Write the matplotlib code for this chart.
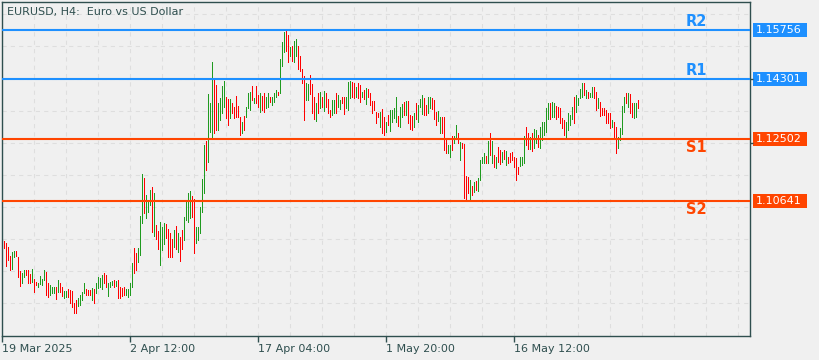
import matplotlib
matplotlib.use("Agg")
import matplotlib.pyplot as plt
from matplotlib.patches import Rectangle
from matplotlib.transforms import blended_transform_factory

chart_title = "EURUSD, H4:  Euro vs US Dollar"
time_labels = ["19 Mar 2025", "2 Apr 12:00", "17 Apr 04:00", "1 May 20:00", "16 May 12:00"]
bars_per_label = 64

level_names = ["R2", "R1", "S1", "S2"]
level_values = [1.15756, 1.14301, 1.12502, 1.10641]

# u = up bar (green), d = down bar (red)
bar_dir = ("dddduudddu" "udddudduuu" "udduuudu"
           "dduudddddu" "uuuddduduu" "uudduuudud" "ddduuu"
           "udduuuduuu" "dudduuuddd" "dududduuuu" "dduuuuudu"
           "uudduuuudd" "uddddduduu" "ududdudduu" "duuudu"
           "uudduduudd" "dduudddudu" "duddduuduu" "dduuuddudd" "ududdddddu" "dduduuuud"
           "uududddudu" "uudduudddu" "uddduuduud" "uddddududu" "uuudududud" "dududddddd"
           "uuudduduud" "uuuuuduudd" "ddduuuuduu" "uududuuddu" "dddddduddu" "uuududduud")

bar_high = [
    1.0944, 1.0938, 1.0926, 1.0899, 1.0911, 1.0914, 1.0914, 1.0896, 1.0854, 1.0848,
    1.0857, 1.0857, 1.0857, 1.0845, 1.0860, 1.0830, 1.0821, 1.0818, 1.0839, 1.0830,
    1.0857, 1.0851, 1.0818, 1.0812, 1.0806, 1.0806, 1.0806, 1.0827,
    1.0818, 1.0806, 1.0794, 1.0794, 1.0800, 1.0797, 1.0794, 1.0758, 1.0767, 1.0773,
    1.0782, 1.0791, 1.0818, 1.0800, 1.0797, 1.0797, 1.0803, 1.0800, 1.0818, 1.0836,
    1.0833, 1.0842, 1.0848, 1.0842, 1.0818, 1.0821, 1.0824, 1.0827, 1.0824, 1.0827,
    1.0806, 1.0803, 1.0806, 1.0800, 1.0800, 1.0818,
    1.0878, 1.0923, 1.0908, 1.0923, 1.1019, 1.1146, 1.1134, 1.1082, 1.1067, 1.1098,
    1.1107, 1.1088, 1.0992, 1.0974, 1.1001, 1.0986, 1.0998, 1.0995, 1.0980, 1.0968,
    1.0950, 1.0977, 1.0989, 1.0968, 1.0956, 1.0977, 1.1016, 1.1067, 1.1088, 1.1095,
    1.1079, 1.1070, 1.0986, 1.0986, 1.1046, 1.1131, 1.1233, 1.1245, 1.1386,
    1.1359, 1.1480, 1.1428, 1.1413, 1.1359, 1.1374, 1.1410, 1.1425, 1.1377, 1.1371,
    1.1371, 1.1359, 1.1347, 1.1380, 1.1350, 1.1317, 1.1302, 1.1320, 1.1347, 1.1389,
    1.1392, 1.1410, 1.1374, 1.1410, 1.1383, 1.1389, 1.1380, 1.1389, 1.1377, 1.1389,
    1.1377, 1.1377, 1.1389, 1.1398, 1.1392, 1.1489,
    1.1540, 1.1570, 1.1576, 1.1561, 1.1525, 1.1528, 1.1543, 1.1549, 1.1528, 1.1498,
    1.1459, 1.1438, 1.1419, 1.1416, 1.1441, 1.1416, 1.1377, 1.1359, 1.1389, 1.1392,
    1.1377, 1.1395, 1.1389, 1.1371, 1.1338, 1.1368, 1.1368, 1.1389, 1.1383, 1.1368,
    1.1377, 1.1377, 1.1377, 1.1422, 1.1425, 1.1422, 1.1419, 1.1407, 1.1419, 1.1413,
    1.1392, 1.1398, 1.1404, 1.1401, 1.1389, 1.1365, 1.1365, 1.1332, 1.1329, 1.1332,
    1.1341, 1.1317, 1.1302, 1.1323, 1.1338, 1.1338, 1.1344, 1.1377, 1.1320,
    1.1347, 1.1356, 1.1362, 1.1365, 1.1365, 1.1323, 1.1320, 1.1329, 1.1359, 1.1353,
    1.1371, 1.1383, 1.1374, 1.1353, 1.1377, 1.1377, 1.1374, 1.1368, 1.1332, 1.1335,
    1.1317, 1.1317, 1.1317, 1.1254, 1.1233, 1.1233, 1.1260, 1.1260, 1.1293, 1.1269,
    1.1242, 1.1239, 1.1236, 1.1140, 1.1137, 1.1128, 1.1110, 1.1122, 1.1125, 1.1134,
    1.1188, 1.1197, 1.1209, 1.1200, 1.1245, 1.1269, 1.1245, 1.1203, 1.1197, 1.1227,
    1.1218, 1.1212, 1.1218, 1.1215, 1.1197, 1.1209, 1.1212, 1.1197, 1.1194, 1.1167,
    1.1197, 1.1197, 1.1260, 1.1287, 1.1269, 1.1257, 1.1269, 1.1281, 1.1278, 1.1263,
    1.1287, 1.1302, 1.1302, 1.1344, 1.1359, 1.1359, 1.1362, 1.1359, 1.1350, 1.1347,
    1.1344, 1.1314, 1.1308, 1.1302, 1.1329, 1.1323, 1.1347, 1.1377, 1.1383, 1.1374,
    1.1401, 1.1419, 1.1419, 1.1398, 1.1392, 1.1389, 1.1407, 1.1407, 1.1392, 1.1374,
    1.1362, 1.1344, 1.1344, 1.1338, 1.1329, 1.1329, 1.1308, 1.1302, 1.1287, 1.1257,
    1.1284, 1.1350, 1.1377, 1.1389, 1.1389, 1.1386, 1.1359, 1.1359, 1.1359, 1.1368,
]

bar_low = [
    1.0923, 1.0869, 1.0887, 1.0857, 1.0860, 1.0896, 1.0899, 1.0836, 1.0809, 1.0818,
    1.0836, 1.0842, 1.0818, 1.0818, 1.0821, 1.0791, 1.0812, 1.0806, 1.0815, 1.0812,
    1.0827, 1.0782, 1.0776, 1.0782, 1.0788, 1.0788, 1.0770, 1.0791,
    1.0791, 1.0779, 1.0773, 1.0776, 1.0776, 1.0758, 1.0745, 1.0727, 1.0727, 1.0749,
    1.0752, 1.0767, 1.0788, 1.0782, 1.0782, 1.0782, 1.0767, 1.0758, 1.0788, 1.0803,
    1.0806, 1.0800, 1.0818, 1.0806, 1.0779, 1.0806, 1.0812, 1.0806, 1.0809, 1.0773,
    1.0773, 1.0779, 1.0782, 1.0782, 1.0776, 1.0782,
    1.0806, 1.0848, 1.0857, 1.0881, 1.0902, 1.0998, 1.1028, 1.1013, 1.1031, 1.1052,
    1.0971, 1.0959, 1.0950, 1.0920, 1.0872, 1.0917, 1.0935, 1.0953, 1.0896, 1.0896,
    1.0896, 1.0926, 1.0920, 1.0911, 1.0884, 1.0920, 1.0947, 1.1007, 1.1001, 1.1013,
    1.1016, 1.0908, 1.0938, 1.0947, 1.0968, 1.1031, 1.1088, 1.1158, 1.1182,
    1.1272, 1.1254, 1.1269, 1.1278, 1.1278, 1.1308, 1.1329, 1.1347, 1.1314, 1.1293,
    1.1314, 1.1329, 1.1314, 1.1317, 1.1317, 1.1263, 1.1269, 1.1278, 1.1317, 1.1344,
    1.1338, 1.1368, 1.1359, 1.1359, 1.1347, 1.1332, 1.1338, 1.1332, 1.1344, 1.1347,
    1.1362, 1.1353, 1.1362, 1.1377, 1.1383, 1.1389,
    1.1468, 1.1510, 1.1513, 1.1480, 1.1498, 1.1483, 1.1480, 1.1498, 1.1459, 1.1453,
    1.1419, 1.1308, 1.1368, 1.1368, 1.1386, 1.1329, 1.1311, 1.1305, 1.1329, 1.1344,
    1.1347, 1.1335, 1.1347, 1.1329, 1.1317, 1.1323, 1.1329, 1.1329, 1.1347, 1.1341,
    1.1359, 1.1326, 1.1344, 1.1338, 1.1374, 1.1377, 1.1374, 1.1377, 1.1374, 1.1362,
    1.1377, 1.1371, 1.1356, 1.1377, 1.1353, 1.1329, 1.1338, 1.1299, 1.1317, 1.1287,
    1.1269, 1.1263, 1.1272, 1.1293, 1.1275, 1.1302, 1.1314, 1.1302, 1.1290,
    1.1287, 1.1317, 1.1323, 1.1323, 1.1299, 1.1281, 1.1278, 1.1287, 1.1311, 1.1302,
    1.1347, 1.1326, 1.1323, 1.1323, 1.1329, 1.1344, 1.1341, 1.1311, 1.1293, 1.1305,
    1.1269, 1.1269, 1.1218, 1.1209, 1.1209, 1.1197, 1.1218, 1.1239, 1.1254, 1.1239,
    1.1188, 1.1224, 1.1073, 1.1070, 1.1088, 1.1070, 1.1082, 1.1092, 1.1098, 1.1095,
    1.1128, 1.1179, 1.1179, 1.1179, 1.1179, 1.1203, 1.1179, 1.1167, 1.1164, 1.1182,
    1.1176, 1.1182, 1.1191, 1.1173, 1.1179, 1.1182, 1.1188, 1.1167, 1.1128, 1.1146,
    1.1170, 1.1173, 1.1179, 1.1233, 1.1221, 1.1221, 1.1215, 1.1224, 1.1239, 1.1227,
    1.1224, 1.1248, 1.1263, 1.1272, 1.1311, 1.1311, 1.1317, 1.1317, 1.1311, 1.1317,
    1.1299, 1.1284, 1.1263, 1.1254, 1.1278, 1.1293, 1.1311, 1.1299, 1.1332, 1.1353,
    1.1374, 1.1377, 1.1383, 1.1374, 1.1374, 1.1377, 1.1377, 1.1374, 1.1338, 1.1344,
    1.1320, 1.1323, 1.1323, 1.1299, 1.1299, 1.1284, 1.1287, 1.1254, 1.1209, 1.1224,
    1.1248, 1.1266, 1.1332, 1.1359, 1.1347, 1.1329, 1.1317, 1.1314, 1.1317, 1.1344,
]

bg = "#f0f0f0"
ink = "#2f4f4f"
up_color = "#1f9a1f"
down_color = "#ff0000"
level_colors = ["#1e90ff", "#1e90ff", "#ff4500", "#ff4500"]

W, H = 820, 360
fig = plt.figure(figsize=(W / 100, H / 100), dpi=100, facecolor=bg)
ax = fig.add_axes([2.5 / W, 24 / H, 747.5 / W, 334 / H], facecolor=bg)

n = len(bar_high)
x = list(range(n))
colors = [up_color if d == "u" else down_color for d in bar_dir]
ax.vlines(x, bar_low, bar_high, colors=colors, linewidth=0.5,
          antialiased=False, zorder=2)

x0 = -0.75
ax.set_xlim(x0, 373)
ax.set_ylim(1.06586, 1.16609)

# dashed grid, one vertical line every 16 bars
for k in range(24):
    ax.axvline(x0 + 16 * k, color="#dedede", lw=0.75, ls=(0, (4, 4)), zorder=1)
grid_step = 0.009633
for k in range(-5, 5):
    ax.axhline(1.12386 + grid_step * k, color="#dedede", lw=0.75, ls=(0, (4, 4)), zorder=1)

# levels
trans = blended_transform_factory(fig.transFigure, ax.transData)
box_h = (1.16609 - 1.06586) / 334 * 14
for name, v, c in zip(level_names, level_values, level_colors):
    ax.axhline(v, color=c, lw=1.5, zorder=3)
    dy = 8.5 if name.startswith("R") else -8.5
    ax.annotate(name, (346, v), xytext=(0, dy), textcoords="offset pixels",
                ha="center", va="center", fontsize=10.5, fontweight="bold",
                color=c, zorder=4)
    ax.add_patch(Rectangle((753 / W, v - box_h / 2), 54 / W, box_h,
                           transform=trans, facecolor=c, edgecolor="none",
                           clip_on=False))
    ax.text(756 / W, v, "{:.5f}".format(v), transform=trans, color="white",
            fontsize=8, ha="left", va="center", clip_on=False)

ax.set_xticks([x0 + bars_per_label * i for i in range(len(time_labels))])
ax.set_xticklabels(time_labels, ha="left")
ax.tick_params(axis="x", length=4, width=1, pad=2, colors=ink, labelsize=8)

ax.yaxis.tick_right()
ax.set_yticks([1.12386, 1.14312])
ax.set_yticklabels([])
ax.tick_params(axis="y", length=2.5, width=1, colors=ink)

for s in ax.spines.values():
    s.set_color(ink)
    s.set_linewidth(1.0)

fig.text(7 / W, 1 - 12 / H, chart_title, ha="left", va="center",
         fontsize=8, color=ink)

fig.savefig("out.png", dpi=100, facecolor=bg)
